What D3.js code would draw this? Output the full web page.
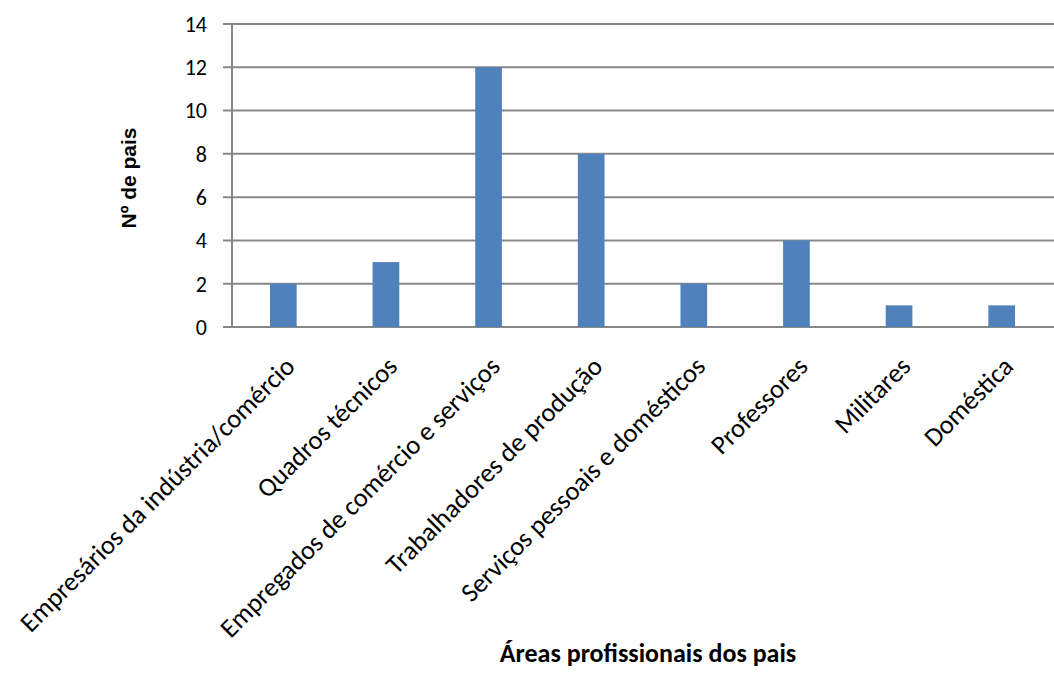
<!DOCTYPE html>
<html>
<head>
<meta charset="utf-8">
<script src="https://cdn.jsdelivr.net/npm/d3@7"></script>
<style>
  body { margin: 0; background: #fff; }
  svg text { font-family: Carlito, Lato, "Liberation Sans", sans-serif; fill: #000; }
</style>
</head>
<body>
<div id="chart"></div>
<script>
// Chart data
const categories = [
    'Empresários da indústria/comércio',
    'Quadros técnicos',
    'Empregados de comércio e serviços',
    'Trabalhadores de produção',
    'Serviços pessoais e domésticos',
    'Professores',
    'Militares',
    'Doméstica'
];
const values = [2, 3, 12, 8, 2, 4, 1, 1];
const yTicks = [0, 2, 4, 6, 8, 10, 12, 14];

const width = 1054, height = 673;
const margin = { top: 24, right: 0, bottom: 346, left: 232 };

const svg = d3.select('#chart').append('svg')
    .attr('width', width)
    .attr('height', height);

const x = d3.scaleBand()
    .domain(categories)
    .range([margin.left, width - 1])
    .paddingInner(0.74)
    .paddingOuter(0.37);

const y = d3.scaleLinear()
    .domain([0, 14])
    .range([height - margin.bottom, margin.top]);

// gridlines
svg.append('g')
    .selectAll('line')
    .data(yTicks)
    .enter().append('line')
    .attr('x1', margin.left - 9)
    .attr('x2', width)
    .attr('y1', d => y(d))
    .attr('y2', d => y(d))
    .attr('stroke', '#878787')
    .attr('stroke-width', 2);

// y axis line
svg.append('line')
    .attr('x1', margin.left)
    .attr('x2', margin.left)
    .attr('y1', y(14))
    .attr('y2', y(0))
    .attr('stroke', '#878787')
    .attr('stroke-width', 2);

// y tick labels
svg.append('g')
    .selectAll('text')
    .data(yTicks)
    .enter().append('text')
    .attr('x', margin.left - 25)
    .attr('y', d => y(d))
    .attr('dy', '0.36em')
    .attr('text-anchor', 'end')
    .style('font-size', '22px')
    .text(d => d);

// bars
svg.append('g')
    .selectAll('rect')
    .data(values)
    .enter().append('rect')
    .attr('x', (d, i) => x(categories[i]))
    .attr('y', d => y(d))
    .attr('width', x.bandwidth())
    .attr('height', d => y(0) - y(d))
    .attr('fill', '#4f81bd');

// category labels
svg.append('g')
    .selectAll('text')
    .data(categories)
    .enter().append('text')
    .attr('transform', d => {
        const cx = x(d) + x.bandwidth() / 2 + 13;
        return `translate(${cx},${y(0) + 41}) rotate(-45)`;
    })
    .attr('text-anchor', 'end')
    .style('font-size', '26.5px')
    .text(d => d);

// axis titles
svg.append('text')
    .attr('transform', `translate(136,178) rotate(-90)`)
    .attr('text-anchor', 'middle')
    .style('font-family', '"Liberation Sans", Arial, sans-serif')
    .style('font-size', '21px')
    .style('font-weight', 'bold')
    .text('Nº de pais');

svg.append('text')
    .attr('x', 648)
    .attr('y', 662)
    .attr('text-anchor', 'middle')
    .style('font-size', '26px')
    .style('font-weight', 'bold')
    .text('Áreas profissionais dos pais');
</script>
</body>
</html>
